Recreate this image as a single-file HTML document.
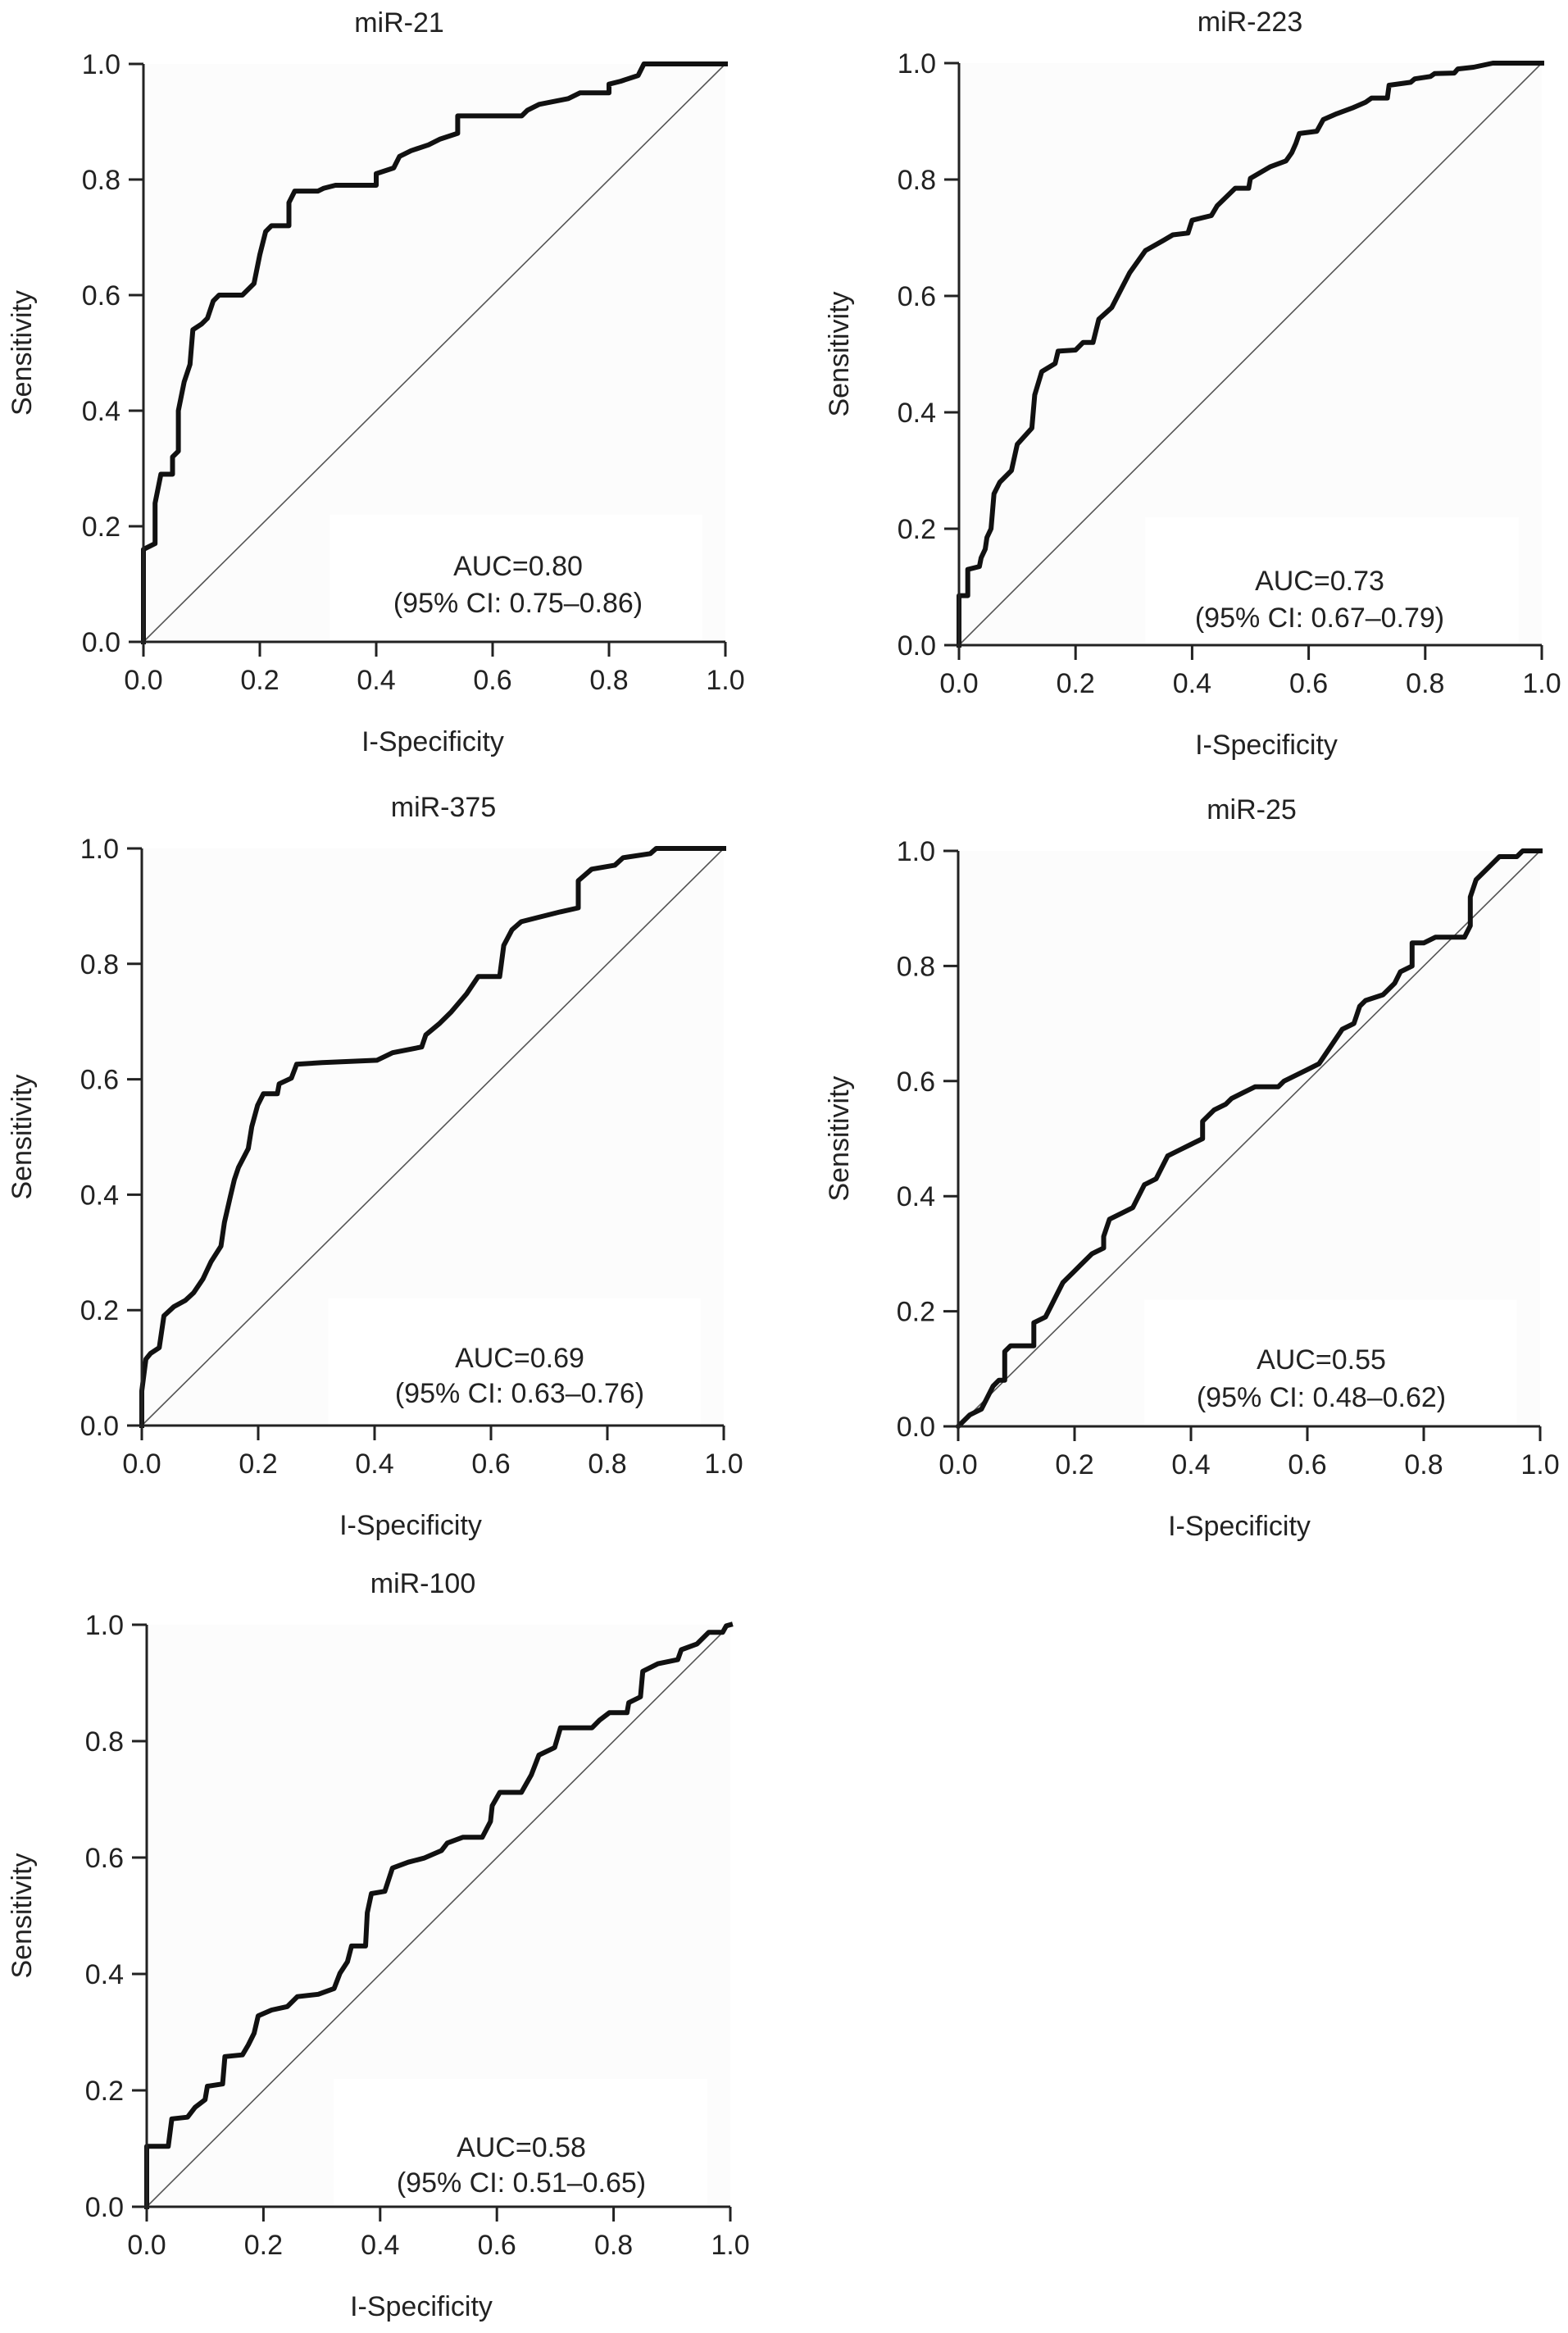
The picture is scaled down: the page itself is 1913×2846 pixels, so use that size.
<!DOCTYPE html>
<html><head><meta charset="utf-8">
<style>
html,body{margin:0;padding:0;background:#fff;}
svg{display:block;font-family:"Liberation Sans",Arial,sans-serif;}
</style></head>
<body>
<svg id="fig" width="1913" height="2846" viewBox="0 0 1913 2846" xmlns="http://www.w3.org/2000/svg"></svg>
<script>
const tickValues = [0, 0.2, 0.4, 0.6, 0.8, 1.0];
const tickLabels = ["0.0", "0.2", "0.4", "0.6", "0.8", "1.0"];
const panelTitles = ["miR-21", "miR-223", "miR-375", "miR-25", "miR-100"];
const aucLabels = ["AUC=0.80", "AUC=0.73", "AUC=0.69", "AUC=0.55", "AUC=0.58"];
const ciLabels = ["(95% CI: 0.75\u20130.86)", "(95% CI: 0.67\u20130.79)", "(95% CI: 0.63\u20130.76)", "(95% CI: 0.48\u20130.62)", "(95% CI: 0.51\u20130.65)"];

const fpr21 = [0,0,0.02,0.02,0.03,0.05,0.05,0.06,0.06,0.07,0.08,0.085,0.1,0.11,0.12,0.13,0.17,0.19,0.2,0.21,0.22,0.25,0.25,0.26,0.3,0.31,0.33,0.4,0.4,0.43,0.44,0.46,0.49,0.51,0.54,0.54,0.65,0.66,0.68,0.73,0.75,0.8,0.8,0.82,0.85,0.86,1];
const tpr21 = [0,0.16,0.17,0.24,0.29,0.29,0.32,0.33,0.40,0.45,0.48,0.54,0.55,0.56,0.59,0.60,0.60,0.62,0.67,0.71,0.72,0.72,0.76,0.78,0.78,0.785,0.79,0.79,0.81,0.82,0.84,0.85,0.86,0.87,0.88,0.91,0.91,0.92,0.93,0.94,0.95,0.95,0.965,0.97,0.98,1,1];

const fpr223 = [0,0,0.015,0.015,0.035,0.038,0.045,0.048,0.055,0.06,0.07,0.09,0.1,0.125,0.13,0.142,0.165,0.17,0.2,0.213,0.23,0.24,0.262,0.28,0.293,0.32,0.35,0.367,0.393,0.4,0.433,0.443,0.474,0.497,0.5,0.534,0.561,0.571,0.578,0.584,0.614,0.625,0.648,0.675,0.698,0.708,0.735,0.738,0.775,0.782,0.809,0.816,0.85,0.856,0.883,0.916,1];
const tpr223 = [0,0.085,0.085,0.13,0.135,0.15,0.165,0.185,0.2,0.26,0.28,0.30,0.345,0.373,0.43,0.47,0.484,0.505,0.507,0.52,0.52,0.56,0.58,0.615,0.64,0.678,0.695,0.705,0.708,0.73,0.738,0.755,0.785,0.785,0.802,0.822,0.832,0.846,0.862,0.879,0.883,0.903,0.913,0.923,0.933,0.94,0.94,0.962,0.967,0.973,0.977,0.982,0.983,0.99,0.993,1,1];

const fpr375 = [0,0,0.007,0.015,0.03,0.038,0.055,0.075,0.089,0.105,0.119,0.136,0.142,0.152,0.159,0.166,0.183,0.189,0.199,0.209,0.233,0.236,0.257,0.266,0.31,0.404,0.431,0.481,0.488,0.512,0.532,0.558,0.578,0.615,0.622,0.636,0.652,0.679,0.719,0.75,0.75,0.773,0.813,0.827,0.874,0.884,1];
const tpr375 = [0,0.06,0.115,0.125,0.135,0.19,0.206,0.217,0.23,0.254,0.284,0.311,0.352,0.396,0.426,0.447,0.48,0.518,0.555,0.575,0.575,0.592,0.602,0.626,0.629,0.633,0.646,0.656,0.677,0.697,0.717,0.748,0.778,0.778,0.832,0.859,0.873,0.88,0.89,0.897,0.944,0.964,0.971,0.984,0.991,1,1];

const fpr25 = [0,0.02,0.04,0.05,0.06,0.07,0.08,0.08,0.09,0.13,0.13,0.15,0.16,0.17,0.18,0.2,0.21,0.23,0.25,0.25,0.26,0.28,0.3,0.31,0.32,0.34,0.35,0.36,0.38,0.4,0.42,0.42,0.44,0.46,0.47,0.49,0.51,0.55,0.56,0.58,0.6,0.62,0.64,0.66,0.68,0.69,0.7,0.73,0.75,0.76,0.78,0.78,0.8,0.82,0.87,0.88,0.88,0.89,0.91,0.93,0.96,0.97,1];
const tpr25 = [0,0.02,0.03,0.05,0.07,0.08,0.08,0.13,0.14,0.14,0.18,0.19,0.21,0.23,0.25,0.27,0.28,0.30,0.31,0.33,0.36,0.37,0.38,0.40,0.42,0.43,0.45,0.47,0.48,0.49,0.50,0.53,0.55,0.56,0.57,0.58,0.59,0.59,0.60,0.61,0.62,0.63,0.66,0.69,0.70,0.73,0.74,0.75,0.77,0.79,0.80,0.84,0.84,0.85,0.85,0.87,0.92,0.95,0.97,0.99,0.99,1,1];

const fpr100 = [0,0,0.037,0.043,0.07,0.083,0.1,0.104,0.13,0.134,0.164,0.174,0.184,0.191,0.214,0.241,0.258,0.294,0.321,0.331,0.344,0.351,0.375,0.378,0.385,0.408,0.421,0.448,0.475,0.505,0.515,0.542,0.575,0.589,0.592,0.605,0.642,0.659,0.672,0.699,0.709,0.763,0.776,0.793,0.823,0.826,0.846,0.85,0.876,0.91,0.916,0.943,0.963,0.987,0.993,1];
const tpr100 = [0,0.104,0.104,0.151,0.154,0.171,0.184,0.207,0.211,0.258,0.261,0.278,0.298,0.328,0.338,0.344,0.361,0.365,0.375,0.401,0.421,0.448,0.448,0.505,0.538,0.542,0.582,0.592,0.599,0.612,0.625,0.635,0.635,0.662,0.689,0.712,0.712,0.742,0.776,0.789,0.823,0.823,0.836,0.849,0.849,0.866,0.876,0.92,0.933,0.94,0.957,0.967,0.987,0.987,0.998,1];

const NS = "http://www.w3.org/2000/svg";
const svg = document.getElementById("fig");
function mk(tag, attrs, parent){const e=document.createElementNS(NS,tag);for(const k in attrs)e.setAttribute(k,attrs[k]);(parent||svg).appendChild(e);return e;}

const layouts = [
 {x0:175,x1:885,y0:783,y1:78,tx:487,xt:528,yt:27,ac:632,a1:-81,a2:-36},
 {x0:1170,x1:1881,y0:787,y1:77,tx:1525,xt:1545,yt:1024,ac:1610,a1:-67,a2:-22},
 {x0:173,x1:883,y0:1739,y1:1035,tx:541,xt:501,yt:27,ac:634,a1:-71,a2:-28},
 {x0:1169,x1:1879,y0:1740,y1:1038,tx:1527,xt:1512,yt:1024,ac:1612,a1:-70,a2:-24},
 {x0:179,x1:891,y0:2692,y1:1982,tx:516,xt:514,yt:27,ac:636,a1:-61,a2:-18}
];
const fprs=[fpr21,fpr223,fpr375,fpr25,fpr100];
const tprs=[tpr21,tpr223,tpr375,tpr25,tpr100];
const keys=["mir-21","mir-223","mir-375","mir-25","mir-100"];

layouts.forEach((L,i)=>{
  const sx=v=>L.x0+v*(L.x1-L.x0);
  const sy=v=>L.y0-v*(L.y0-L.y1);
  const g=mk("g",{});
  
  
  const bg=mk("rect",{x:L.x0,y:L.y1,width:L.x1-L.x0,height:L.y0-L.y1,fill:"#fcfcfc"},g);
  
  
  const wb=mk("rect",{x:sx(0.32),y:sy(0.22),width:sx(0.96)-sx(0.32),height:sy(0)-sy(0.22),fill:"#ffffff"},g);
  
  
  const t=mk("text",{x:L.tx,y:L.y1-39,"font-size":34,"text-anchor":"middle",fill:"#222"},g);
  t.textContent=panelTitles[i];
  
  
  const d=mk("line",{x1:sx(0),y1:sy(0),x2:sx(1),y2:sy(1),stroke:"#555",'stroke-width':1.6},g);
  
  
  const pts=fprs[i].map((f,j)=>sx(f).toFixed(1)+","+sy(tprs[i][j]).toFixed(1)).join(" ");
  const c=mk("polyline",{points:pts,fill:"none",stroke:"#111",'stroke-width':6,'stroke-linejoin':"round",'stroke-linecap':"square"},g);
  
  
  const ax=mk("line",{x1:L.x0-18,y1:L.y0,x2:L.x1,y2:L.y0,stroke:"#222",'stroke-width':3},g);
  
  
  const ay=mk("line",{x1:L.x0,y1:L.y0+18,x2:L.x0,y2:L.y1,stroke:"#222",'stroke-width':3},g);
  
  
  tickValues.forEach((v,k)=>{
    const xt=mk("line",{x1:sx(v),y1:L.y0,x2:sx(v),y2:L.y0+18,stroke:"#222",'stroke-width':3},g);
    
    
    const yt=mk("line",{x1:L.x0-18,y1:sy(v),x2:L.x0,y2:sy(v),stroke:"#222",'stroke-width':3},g);
    
    
    const xl=mk("text",{x:sx(v),y:L.y0+58,"font-size":34,"text-anchor":"middle",fill:"#222"},g);
    xl.textContent=tickLabels[k];
    
    
    const yl=mk("text",{x:L.x0-28,y:sy(v)+12,"font-size":34,"text-anchor":"end",fill:"#222"},g);
    yl.textContent=tickLabels[k];
    
    
  });
  const xa=mk("text",{x:L.xt,y:L.y0+133,"font-size":34,"text-anchor":"middle",fill:"#222"},g);
  xa.textContent="I-Specificity";
  
  
  const cy=(L.y0+L.y1)/2;
  const ya=mk("text",{x:L.yt+11,y:cy,"font-size":34,"text-anchor":"middle",fill:"#222",transform:"rotate(-90 "+(L.yt+11)+" "+cy+")"},g);
  ya.textContent="Sensitivity";
  
  
  const a1=mk("text",{x:L.ac,y:L.y0+L.a1,"font-size":34,"text-anchor":"middle",fill:"#222"},g);
  a1.textContent=aucLabels[i];
  
  
  const a2=mk("text",{x:L.ac,y:L.y0+L.a2,"font-size":34,"text-anchor":"middle",fill:"#222"},g);
  a2.textContent=ciLabels[i];
  
  
});
</script>
</body></html>
